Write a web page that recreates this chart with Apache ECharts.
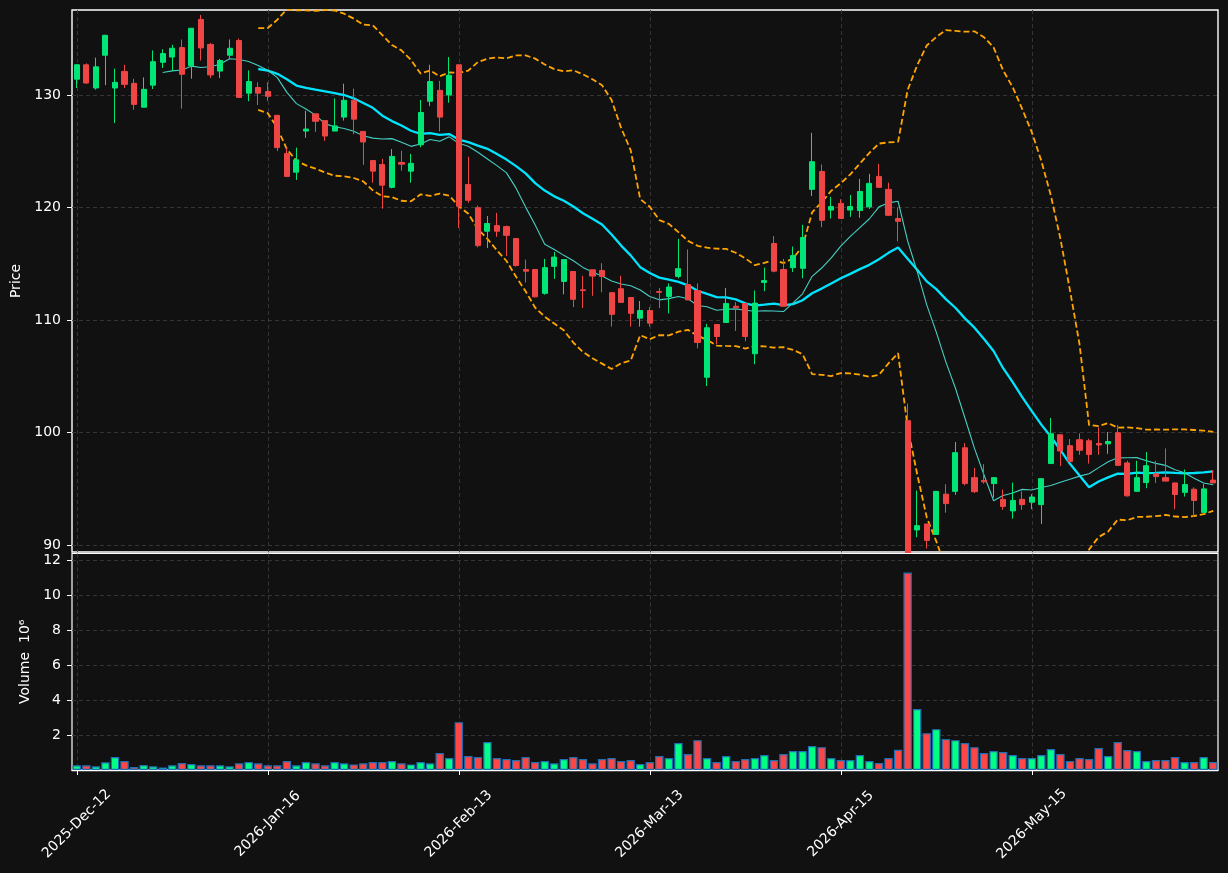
<!DOCTYPE html>
<html>
<head>
<meta charset="utf-8">
<script src="https://cdn.jsdelivr.net/npm/echarts@6/dist/echarts.min.js"></script>
<style>
html,body{margin:0;padding:0;background:#111111;}
#c{width:1228px;height:873px;}
</style>
</head>
<body>
<div id="c"></div>
<script>
// ---- data ----
const tickLabels = ['2025-Dec-12','2026-Jan-16','2026-Feb-13','2026-Mar-13','2026-Apr-15','2026-May-15'];
const tickEvery = 20;

const opens = [
131.40,132.68,130.62,133.53,130.62,132.09,131.03,128.91,130.87,132.90,
133.37,134.21,132.59,136.71,134.49,132.12,133.53,134.84,130.16,130.66,
130.31,128.19,124.79,123.14,126.79,128.32,127.72,126.79,128.03,129.53,
126.76,124.17,123.82,121.79,124.00,123.23,125.57,129.44,130.41,130.00,
132.68,122.04,119.98,117.89,118.39,118.30,117.24,114.49,114.49,112.37,
114.77,113.43,114.31,112.68,114.46,114.40,112.43,112.78,112.00,110.16,
110.84,112.53,112.09,113.87,113.15,112.62,104.91,109.60,109.78,111.22,
111.47,107.00,113.34,116.80,114.49,114.65,114.59,121.61,123.20,119.77,
120.36,119.77,119.73,120.05,122.76,121.61,119.02,101.05,91.34,91.87,
90.94,94.52,94.77,98.64,95.99,95.74,95.46,94.06,93.03,94.06,
93.81,93.59,97.24,99.80,98.83,99.36,99.27,99.02,98.99,99.98,
97.30,94.77,95.55,96.33,95.99,95.52,94.68,94.96,92.90,95.77];

const closes = [
132.68,131.06,132.50,135.30,131.12,130.94,129.16,130.50,132.96,133.68,
134.15,131.84,135.93,134.18,131.78,133.06,134.15,129.78,131.19,130.16,
129.88,125.32,122.76,124.23,126.97,127.66,126.35,127.25,129.53,127.85,
125.82,123.23,121.98,124.54,123.85,123.92,128.44,131.19,128.03,131.75,
120.11,120.64,116.61,118.58,117.89,117.52,114.84,114.34,112.06,114.65,
115.59,115.37,111.84,112.62,113.90,113.87,110.50,111.56,110.59,110.84,
109.72,112.46,112.93,114.56,111.78,108.00,109.31,108.53,111.47,111.09,
108.53,111.50,113.50,114.34,111.22,115.74,117.33,124.07,118.86,120.08,
119.02,120.08,121.42,122.14,121.79,119.30,118.77,88.80,91.72,90.41,
94.77,93.68,98.21,95.46,94.74,95.62,95.99,93.43,93.96,93.59,
94.27,95.90,99.89,98.36,97.43,98.42,98.05,98.89,99.20,97.08,
94.37,95.99,97.05,96.08,95.68,94.49,95.37,93.96,94.99,95.52];

const lows = [
130.62,131.00,130.47,130.87,127.50,130.62,128.69,128.91,130.53,132.40,
132.12,128.78,131.44,133.06,131.50,131.50,133.21,129.78,129.44,129.10,
129.47,125.01,122.76,122.45,126.19,126.72,125.91,126.79,127.72,126.51,
123.79,122.20,119.89,121.70,123.26,122.20,125.35,129.00,126.76,129.31,
118.17,120.42,116.46,116.40,117.39,115.68,114.74,113.34,112.00,112.25,
113.65,112.28,111.15,111.06,112.15,112.46,109.41,111.56,109.41,109.41,
109.41,111.06,110.59,113.71,111.78,107.47,104.13,107.85,109.78,109.03,
108.10,106.07,112.56,114.24,111.22,114.27,113.71,121.01,118.24,119.02,
119.02,119.17,119.08,119.86,121.73,119.30,116.99,88.00,90.69,89.69,
90.90,92.87,94.46,95.30,94.62,95.46,94.21,93.12,92.34,93.12,
93.18,91.87,97.24,97.02,97.43,98.02,97.24,98.02,98.11,97.08,
94.31,94.77,95.05,95.52,95.68,93.18,94.31,92.50,92.90,95.52];

const highs = [
132.75,132.81,133.31,135.35,132.34,132.68,131.44,131.56,133.96,134.06,
134.46,134.93,135.95,137.11,134.62,133.21,134.93,135.02,132.18,131.12,
131.12,128.19,125.32,125.32,128.60,128.32,127.72,129.69,131.00,130.56,
126.76,124.17,124.32,125.19,125.04,124.76,129.56,132.68,131.25,133.37,
132.70,124.51,120.17,119.24,119.52,118.39,117.24,115.37,114.49,115.43,
116.05,115.40,114.31,113.93,114.46,115.05,112.43,113.93,112.00,111.69,
111.15,112.84,113.25,117.21,116.27,113.25,109.66,109.60,112.84,111.59,
111.47,112.62,114.65,117.46,115.43,116.52,118.46,126.63,123.82,120.95,
120.73,121.11,122.54,122.98,123.88,122.20,120.02,102.57,94.84,91.87,
94.80,95.40,99.16,99.06,96.86,97.18,95.99,94.93,95.55,94.77,
94.52,95.90,101.29,99.80,99.42,99.92,99.45,100.45,100.04,100.67,
97.49,97.49,98.27,97.49,98.58,95.52,96.71,95.12,95.43,96.65];

// volume in units of 10^6
const volumes = [
0.27,0.27,0.21,0.44,0.74,0.51,0.17,0.29,0.21,0.15,
0.27,0.40,0.34,0.27,0.27,0.27,0.21,0.38,0.46,0.38,
0.27,0.27,0.51,0.27,0.46,0.38,0.27,0.46,0.38,0.32,
0.38,0.46,0.46,0.51,0.38,0.32,0.46,0.38,0.97,0.69,
2.74,0.80,0.74,1.60,0.69,0.63,0.57,0.74,0.46,0.51,
0.38,0.63,0.74,0.63,0.38,0.63,0.69,0.51,0.57,0.34,
0.46,0.80,0.69,1.54,0.91,1.71,0.69,0.46,0.80,0.51,
0.63,0.69,0.86,0.57,0.91,1.09,1.09,1.37,1.31,0.69,
0.57,0.57,0.86,0.51,0.40,0.69,1.16,11.31,3.49,2.11,
2.34,1.77,1.71,1.54,1.31,0.97,1.09,1.03,0.86,0.69,
0.69,0.86,1.20,0.91,0.51,0.69,0.63,1.26,0.80,1.60,
1.14,1.09,0.51,0.57,0.57,0.74,0.46,0.46,0.74,0.46];

const priceTicks = [90,100,110,120,130];
const volumeTicks = [2,4,6,8,10,12];

// ---- derived ----
const categories = closes.map((_, i) => String(i));
function rollingMean(arr, w) {
  return arr.map((_, i) => {
    if (i < w - 1) return '-';
    let s = 0; for (let k = i - w + 1; k <= i; k++) s += arr[k];
    return s / w;
  });
}
function rollingBand(arr, w, k) {
  const m = rollingMean(arr, w);
  return arr.map((_, i) => {
    if (i < w - 1) return '-';
    let s = 0; for (let j = i - w + 1; j <= i; j++) s += (arr[j] - m[i]) * (arr[j] - m[i]);
    return m[i] + k * Math.sqrt(s / w);
  });
}
const ma10 = rollingMean(closes, 10);
const ma20 = rollingMean(closes, 20);
const bbUpper = rollingBand(closes, 20, 2);
const bbLower = rollingBand(closes, 20, -2);

const UP = '#00e676', DOWN = '#ef4545';
const VUP = '#00ff84', VDOWN = '#ff4646';
const candleData = opens.map((o, i) => [o, closes[i], lows[i], highs[i]]);
const volData = volumes.map((v, i) => ({
  value: v,
  itemStyle: { color: closes[i] >= opens[i] ? VUP : VDOWN }
}));

const FONT = 'DejaVu Sans';
const TXT = '#ffffff';
const gridLine = { show: true, lineStyle: { color: '#3a3a3a', type: [4, 3], width: 0.9 } };

const chart = echarts.init(document.getElementById('c'), null, { renderer: 'canvas' });
chart.setOption({
  backgroundColor: '#111111',
  animation: false,
  textStyle: { fontFamily: FONT },
  grid: [
    { left: 72, top: 10, width: 1146, height: 542, show: true, borderColor: '#ffffff', borderWidth: 1.4, backgroundColor: '#111111', z: 0 },
    { left: 72, top: 553.5, width: 1146, height: 216.5, show: true, borderColor: '#ffffff', borderWidth: 1.2, backgroundColor: '#111111', z: 3 }
  ],
  xAxis: [
    {
      type: 'category', gridIndex: 0, data: categories, boundaryGap: true,
      axisLine: { show: false }, axisTick: { show: false }, axisLabel: { show: false },
      splitLine: { show: true, interval: tickEvery - 1, alignWithLabel: true, lineStyle: gridLine.lineStyle }
    },
    {
      type: 'category', gridIndex: 1, data: categories, boundaryGap: true, z: 4,
      axisLine: { show: true, lineStyle: { color: '#ffffff', width: 1.4 } },
      axisTick: { show: true, interval: tickEvery - 1, alignWithLabel: true, length: 5, lineStyle: { color: '#ffffff' } },
      axisLabel: {
        show: true, interval: tickEvery - 1, rotate: 45, align: 'center', verticalAlign: 'middle', margin: 54,
        color: TXT, fontSize: 14, fontFamily: FONT,
        formatter: (v, idx) => (idx % tickEvery === 0 ? tickLabels[idx / tickEvery] : '')
      },
      splitLine: { show: true, interval: tickEvery - 1, alignWithLabel: true, lineStyle: gridLine.lineStyle }
    }
  ],
  yAxis: [
    {
      type: 'value', gridIndex: 0, min: 89.38, max: 137.55, minInterval: 10, maxInterval: 10,
      name: 'Price', nameLocation: 'middle', nameRotate: 90, nameGap: 47,
      nameTextStyle: { color: TXT, fontSize: 14, fontFamily: FONT },
      axisLine: { show: false },
      axisTick: { show: true, length: 5, lineStyle: { color: '#ffffff' }, customValues: priceTicks },
      axisLabel: { color: TXT, fontSize: 14, fontFamily: FONT, margin: 11, customValues: priceTicks,
        formatter: v => (priceTicks.indexOf(Math.round(v * 100) / 100) >= 0 ? String(v) : '') },
      splitLine: gridLine
    },
    {
      type: 'value', gridIndex: 1, min: 0, max: 12.4, interval: 2, z: 4,
      name: 'Volume  10\u2076', nameLocation: 'middle', nameRotate: 90, nameGap: 38,
      nameTextStyle: { color: TXT, fontSize: 14, fontFamily: FONT },
      axisLine: { show: false },
      axisTick: { show: true, length: 5, lineStyle: { color: '#ffffff' }, customValues: volumeTicks },
      axisLabel: { color: TXT, fontSize: 14, fontFamily: FONT, margin: 11, customValues: volumeTicks,
        formatter: v => (volumeTicks.indexOf(v) >= 0 ? String(v) : '') },
      splitLine: gridLine
    }
  ],
  series: [
    {
      type: 'candlestick', xAxisIndex: 0, yAxisIndex: 0, data: candleData, barWidth: 5.6, clip: true, z: 2,
      itemStyle: { color: UP, color0: DOWN, borderColor: UP, borderColor0: DOWN, borderWidth: 1 }
    },
    {
      type: 'line', xAxisIndex: 0, yAxisIndex: 0, data: ma20, symbol: 'none', clip: true, z: 2,
      lineStyle: { color: '#00e5ff', width: 2.3 }
    },
    {
      type: 'line', xAxisIndex: 0, yAxisIndex: 0, data: ma10, symbol: 'none', clip: true, z: 2,
      lineStyle: { color: '#45cfc2', width: 1.1 }
    },
    {
      type: 'line', xAxisIndex: 0, yAxisIndex: 0, data: bbUpper, symbol: 'none', clip: true, z: 2,
      lineStyle: { color: '#ffa500', width: 1.8, type: [6, 3] }
    },
    {
      type: 'line', xAxisIndex: 0, yAxisIndex: 0, data: bbLower, symbol: 'none', clip: true, z: 2,
      lineStyle: { color: '#ffa500', width: 1.8, type: [6, 3] }
    },
    {
      type: 'bar', xAxisIndex: 1, yAxisIndex: 1, data: volData, barWidth: 8.4, z: 5,
      itemStyle: { borderColor: '#1f6fb4', borderWidth: 1.2 }
    }
  ]
});
</script>
</body>
</html>
